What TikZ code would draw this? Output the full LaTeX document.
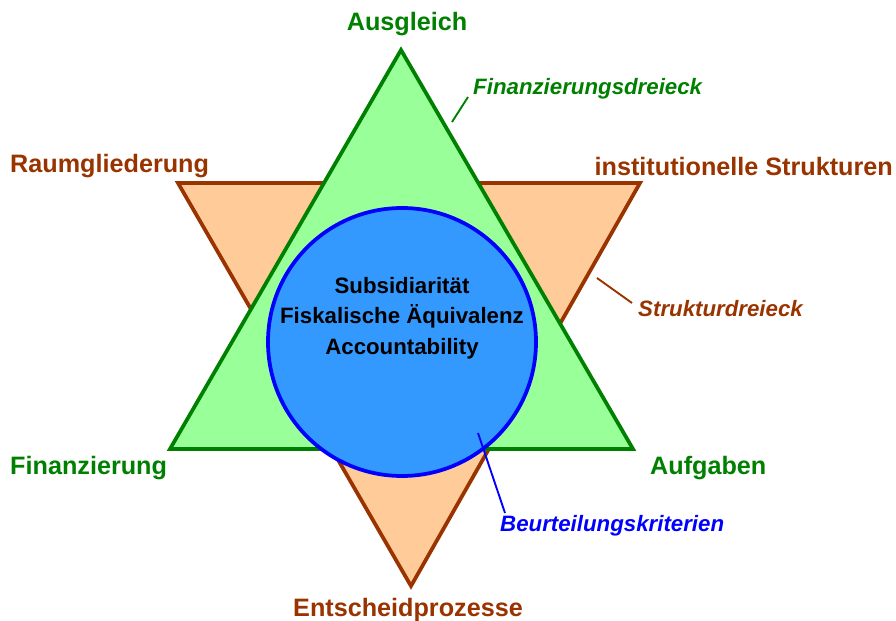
\documentclass[tikz,border=0pt]{standalone}
\usepackage{fontspec}
\setmainfont{Liberation Sans}
\begin{document}
\begin{tikzpicture}[x=0.03cm,y=-0.03cm,
  lbl/.style={inner sep=0pt,font=\fontsize{21.5}{24}\selectfont\bfseries},
  ilbl/.style={inner sep=0pt,font=\fontsize{19}{22}\selectfont\bfseries\itshape},
]
\definecolor{gline}{RGB}{0,128,0}
\definecolor{gfill}{RGB}{153,255,153}
\definecolor{oline}{RGB}{153,51,0}
\definecolor{ofill}{RGB}{255,204,153}
\definecolor{cfill}{RGB}{51,153,255}
\definecolor{cline}{RGB}{0,0,255}
\useasboundingbox (0,0) rectangle (896,621);
% structure triangle
\draw[oline,fill=ofill,line width=3.2pt,line join=miter] (178,183) -- (640,183) -- (411,586) -- cycle;
% financing triangle
\draw[gline,fill=gfill,line width=3.2pt,line join=miter] (401,50) -- (633,449) -- (170,449) -- cycle;
% criteria circle
\node[circle,draw=cline,fill=cfill,line width=3.2pt,minimum size=268*0.03cm,inner sep=0pt] (circ) at (402,342) {};
\node[align=center,inner sep=0pt,font=\fontsize{19}{26}\selectfont\bfseries] (ctext) at (402,318)
  {Subsidiarität\\Fiskalische Äquivalenz\\Accountability};
% vertex labels
\node[lbl,text=gline] (ausgleich) at (407,24) {Ausgleich};
\node[lbl,text=gline,anchor=west] (finanz) at (10,468) {Finanzierung};
\node[lbl,text=gline,anchor=west] (aufgaben) at (650,468) {Aufgaben};
\node[lbl,text=oline,anchor=west] (raum) at (10,166) {Raumgliederung};
\node[lbl,text=oline,anchor=east] (inst) at (893,166) {institutionelle Strukturen};
\node[lbl,text=oline] (entsch) at (408,610) {Entscheidprozesse};
% italic labels
\node[ilbl,text=gline,anchor=west] (fdl) at (473,89) {Finanzierungsdreieck};
\node[ilbl,text=oline,anchor=west] (sdl) at (638,309) {Strukturdreieck};
\node[ilbl,text=cline,anchor=west] (bkl) at (500,526) {Beurteilungskriterien};
% leader lines
\coordinate (fdp) at (452,122);
\coordinate (fde) at (468,97);
\coordinate (sdp) at (597,278);
\coordinate (sde) at (632,303);
\coordinate (bkp) at (478,433);
\coordinate (bke) at (505,513);
\draw[gline,line width=1.6pt] (fdp) -- (fde);
\draw[oline,line width=1.6pt] (sdp) -- (sde);
\draw[cline,line width=1.6pt] (bkp) -- (bke);
\end{tikzpicture}
\end{document}
